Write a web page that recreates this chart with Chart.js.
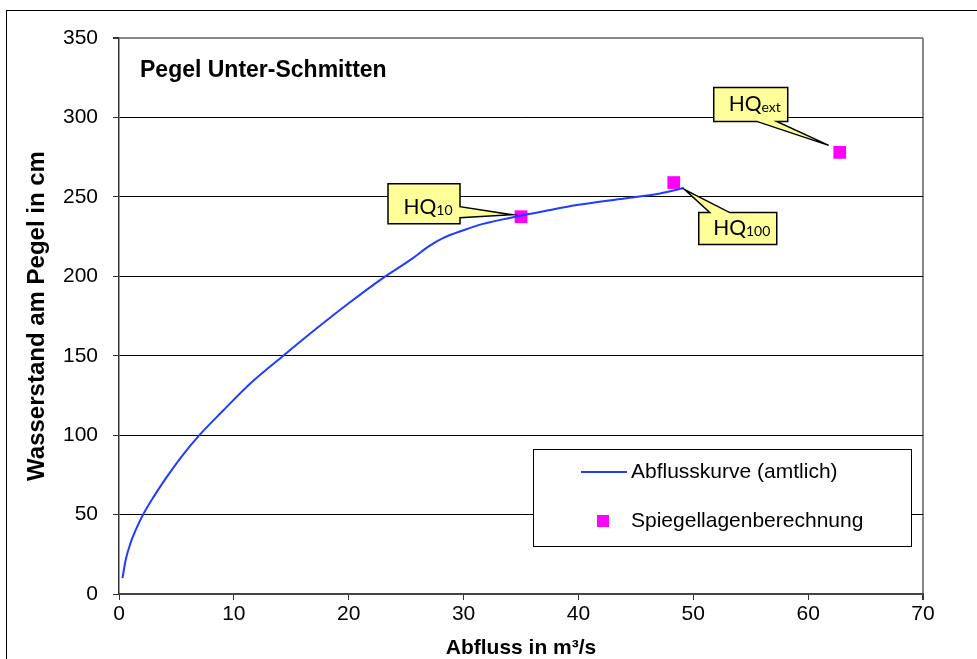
<!DOCTYPE html>
<html>
<head>
<meta charset="utf-8">
<script src="https://cdn.jsdelivr.net/npm/chart.js@4.4.1/dist/chart.umd.min.js"></script>
<style>
  body { margin: 0; background: #fff; }
  #wrap { width: 977px; height: 659px; }
</style>
</head>
<body>
<div id="wrap"><canvas id="pegelChart"></canvas></div>
<script>
// Abflusskurve (amtlich): Abfluss in m3/s / Wasserstand in cm
const abflussQ = [0.3, 0.6, 1.0, 1.5, 2.1, 3.0, 4.0, 5.5, 7.0, 9.0, 11.5, 14.3, 17.0, 20.0, 23.0, 25.5, 27.0, 28.2, 30.0, 31.7, 34.6, 37.0, 40.0, 44.0, 47.0, 49.2];
const abflussW = [10, 22, 32, 41, 50, 61, 72, 87, 100, 115, 133, 150, 166, 183, 199, 211, 219, 224, 229, 233, 237.6, 241, 245, 249, 252, 255.5];

// Spiegellagenberechnung
const hqBase = ['HQ', 'HQ', 'HQ'];
const hqSub = ['10', '100', 'ext'];
const hqQ = [35.0, 48.3, 62.75];
const hqW = [237.5, 259, 278];

const xMin = 0, xMax = 70, xStep = 10;
const yMin = 0, yMax = 350, yStep = 50;

const chartTitle = 'Pegel Unter-Schmitten';
const xTitle = 'Abfluss in m³/s';
const yTitle = 'Wasserstand am Pegel in cm';

// callout boxes, offsets from the marker in px
const callouts = [
  { box: [-133, -33, -61, 7], side: 'right', base: [-10, 1], tip: [-9, -2] },
  { box: [25, 30, 103, 62], side: 'top', base: [36, 56], tip: [11, 7] },
  { box: [-126, -65, -52, -31], side: 'bottom', base: [-83, -63], tip: [-11, -7] }
];

const AX = '"Liberation Sans", Arial, sans-serif';

const framePlugin = {
  id: 'frame',
  beforeDraw(chart) {
    const c = chart.ctx;
    c.save();
    c.fillStyle = '#fff';
    c.fillRect(0, 0, chart.width, chart.height);
    c.strokeStyle = '#000';
    c.lineWidth = 1;
    c.strokeRect(6.5, 10.5, chart.width + 20, chart.height + 20);
    c.restore();
  }
};

const annotPlugin = {
  id: 'annot',
  afterDatasetsDraw(chart) {
    const c = chart.ctx;
    const xs = chart.scales.x, ys = chart.scales.y;
    const area = chart.chartArea;
    c.save();
    // title inside plot
    c.fillStyle = '#000';
    c.font = 'bold 23px ' + AX;
    c.textBaseline = 'middle';
    c.fillText(chartTitle, area.left + 21, area.top + 33);

    // callouts
    hqQ.forEach((q, i) => {
      const px = xs.getPixelForValue(q), py = ys.getPixelForValue(hqW[i]);
      const s = callouts[i];
      const x0 = px + s.box[0], y0 = py + s.box[1], x1 = px + s.box[2], y1 = py + s.box[3];
      const tx = px + s.tip[0], ty = py + s.tip[1];
      c.beginPath();
      c.moveTo(x0, y0);
      if (s.side === 'top') {
        c.lineTo(px + s.base[0], y0); c.lineTo(tx, ty); c.lineTo(px + s.base[1], y0);
      }
      c.lineTo(x1, y0);
      if (s.side === 'right') {
        c.lineTo(x1, py + s.base[0]); c.lineTo(tx, ty); c.lineTo(x1, py + s.base[1]);
      }
      c.lineTo(x1, y1);
      if (s.side === 'bottom') {
        c.lineTo(px + s.base[1], y1); c.lineTo(tx, ty); c.lineTo(px + s.base[0], y1);
      }
      c.lineTo(x0, y1);
      c.closePath();
      c.fillStyle = '#ffff99';
      c.fill();
      c.strokeStyle = '#000';
      c.lineWidth = 1.5;
      c.lineJoin = 'miter';
      c.stroke();

      const bigFont = '21px Lato, "Noto Sans", sans-serif';
      const smallFont = '14px Lato, "Noto Sans", sans-serif';
      c.font = bigFont;
      const w1 = c.measureText(hqBase[i]).width;
      c.font = smallFont;
      const w2 = c.measureText(hqSub[i]).width;
      const startX = (x0 + x1) / 2 - (w1 + w2) / 2 + 4;
      const baseY = y1 - 10;
      c.textBaseline = 'alphabetic';
      c.fillStyle = '#000';
      c.font = bigFont;
      c.fillText(hqBase[i], startX, baseY);
      c.font = smallFont;
      c.fillText(hqSub[i], startX + w1, baseY + 1);
    });
    c.restore();
  },
  afterDraw(chart) {
    // legend box
    const c = chart.ctx;
    const a = chart.chartArea;
    const lx0 = a.right - 390, ly0 = a.bottom - 145, lx1 = a.right - 12, ly1 = a.bottom - 48;
    c.save();
    c.fillStyle = '#fff';
    c.fillRect(lx0, ly0, lx1 - lx0, ly1 - ly0);
    c.strokeStyle = '#000';
    c.lineWidth = 1;
    c.strokeRect(Math.round(lx0) + 0.5, Math.round(ly0) + 0.5, lx1 - lx0, ly1 - ly0);
    const ds = chart.data.datasets;
    c.font = '21px ' + AX;
    c.textBaseline = 'middle';
    c.fillStyle = '#000';
    // line entry
    const r1 = ly0 + 23, r2 = ly0 + 72;
    c.strokeStyle = ds[0].borderColor;
    c.lineWidth = 2;
    c.beginPath();
    c.moveTo(lx0 + 48, r1); c.lineTo(lx0 + 94, r1); c.stroke();
    c.fillText(ds[0].label, lx0 + 98, r1);
    // marker entry
    c.fillStyle = ds[1].backgroundColor;
    c.fillRect(lx0 + 64, r2 - 6, 12, 12);
    c.fillStyle = '#000';
    c.fillText(ds[1].label, lx0 + 98, r2);
    c.restore();
  }
};

const ctx = document.getElementById('pegelChart').getContext('2d');
const chart = new Chart(ctx, {
  type: 'scatter',
  data: {
    datasets: [{
      type: 'line',
      label: 'Abflusskurve (amtlich)',
      data: abflussQ.map((q, i) => ({ x: q, y: abflussW[i] })),
      borderColor: '#1f3cff',
      borderWidth: 2,
      pointRadius: 0,
      fill: false,
      cubicInterpolationMode: 'monotone'
    }, {
      label: 'Spiegellagenberechnung',
      data: hqQ.map((q, i) => ({ x: q, y: hqW[i] })),
      backgroundColor: '#ff00ff',
      borderWidth: 0,
      pointStyle: 'rect',
      pointRadius: 9,
      pointHoverRadius: 9
    }]
  },
  options: {
    responsive: true,
    maintainAspectRatio: false,
    animation: false,
    events: [],
    layout: { padding: { top: 38, right: 54, bottom: 0, left: 0 } },
    plugins: {
      legend: { display: false },
      tooltip: { enabled: false }
    },
    scales: {
      x: {
        type: 'linear',
        min: xMin, max: xMax,
        afterFit(scale) { scale.height = 65; },
        ticks: { stepSize: xStep, color: '#000', font: { family: AX, size: 21 }, padding: 2, maxRotation: 0 },
        grid: {
          color: c => (c.tick && c.tick.value === xMax) ? '#888' : 'rgba(0,0,0,0)',
          lineWidth: c => (c.tick && c.tick.value === xMax) ? 2 : 1,
          tickColor: '#333',
          tickLength: 6
        },
        border: { color: '#444', width: 2 },
        title: {
          display: true, text: xTitle, color: '#000',
          font: { family: AX, size: 21, weight: 'bold', lineHeight: 1 },
          padding: { top: 0, bottom: 0 }
        }
      },
      y: {
        type: 'linear',
        min: yMin, max: yMax,
        afterFit(scale) { scale.width = 119; },
        ticks: { stepSize: yStep, color: '#000', font: { family: AX, size: 21 }, padding: 15 },
        grid: {
          color: c => (c.tick && c.tick.value === yMax) ? '#888' : '#000',
          lineWidth: c => (c.tick && c.tick.value === yMax) ? 2 : 1,
          tickColor: '#333',
          tickLength: 6
        },
        border: { color: '#333', width: 1.5 },
        title: {
          display: true, text: yTitle, color: '#000',
          font: { family: AX, size: 24, weight: 'bold', lineHeight: 1 },
          padding: { top: 25, bottom: 0 }
        }
      }
    }
  },
  plugins: [framePlugin, annotPlugin]
});
</script>
</body>
</html>
